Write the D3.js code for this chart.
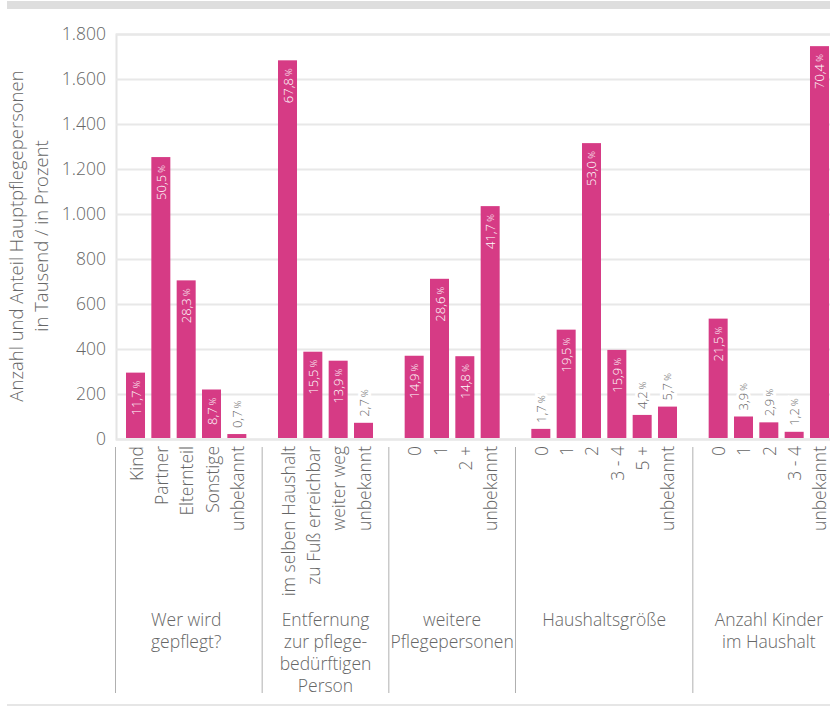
<!DOCTYPE html>
<html lang="de">
<head>
  <meta charset="UTF-8">
  <title>Hauptpflegepersonen</title>
  <style>
    body {
      margin: 0;
      background-color: white;
      font-family: "Open Sans", Lato, sans-serif;
      font-weight: 300;
    }
    svg text {
      fill: #666;
      font-family: "Open Sans", Lato, sans-serif;
      font-weight: 300;
    }
  </style>
</head>
<body>
  <div id="chart"></div>

  <script src="https://d3js.org/d3.v7.min.js"></script>
  <script>
    // Data (Anzahl in Tausend, Anteil in Prozent)
    const groupNames = [
      ['Wer wird', 'gepflegt?'],
      ['Entfernung', 'zur pflege-', 'bedürftigen', 'Person'],
      ['weitere', 'Pflegepersonen'],
      ['Haushaltsgröße'],
      ['Anzahl Kinder', 'im Haushalt']
    ];
    const categories = [
      ['Kind', 'Partner', 'Elternteil', 'Sonstige', 'unbekannt'],
      ['im selben Haushalt', 'zu Fuß erreichbar', 'weiter weg', 'unbekannt'],
      ['0', '1', '2 +', 'unbekannt'],
      ['0', '1', '2', '3 - 4', '5 +', 'unbekannt'],
      ['0', '1', '2', '3 - 4', 'unbekannt']
    ];
    const values = [
      [295, 1253, 705, 220, 22],
      [1683, 388, 348, 72],
      [370, 712, 368, 1035],
      [45, 486, 1315, 396, 107, 144],
      [535, 100, 74, 32, 1746]
    ];
    const shares = [
      [11.7, 50.5, 28.3, 8.7, 0.7],
      [67.8, 15.5, 13.9, 2.7],
      [14.9, 28.6, 14.8, 41.7],
      [1.7, 19.5, 53.0, 15.9, 4.2, 5.7],
      [21.5, 3.9, 2.9, 1.2, 70.4]
    ];
    const yTicks = [0, 200, 400, 600, 800, 1000, 1200, 1400, 1600, 1800];

    const width = 830, height = 707;
    const de = d3.formatLocale({ decimal: ',', thousands: '.', grouping: [3], currency: ['', ' €'] });
    const fmtTick = de.format(',');
    const fmtPct = de.format('.1f');

    // Build slots: one per bar plus one empty slot between groups
    const bars = [];
    const slots = [];
    const gapSlots = [];
    categories.forEach((cats, g) => {
      cats.forEach((c, i) => {
        const key = g + '-' + i;
        slots.push(key);
        bars.push({ key, group: g, label: c, value: values[g][i], share: shares[g][i] });
      });
      if (g < categories.length - 1) {
        slots.push('gap-' + g);
        gapSlots.push('gap-' + g);
      }
    });

    const svg = d3.select('#chart')
      .append('svg')
      .attr('width', width)
      .attr('height', height);

    const x = d3.scaleBand()
      .domain(slots)
      .range([116, 839])
      .paddingInner(0.25)
      .paddingOuter(0.395);

    const y = d3.scaleLinear()
      .domain([0, 1800])
      .range([439, 34]);

    // Frame lines top and bottom
    svg.append('rect')
      .attr('x', 7).attr('y', 1)
      .attr('width', width - 7).attr('height', 8)
      .attr('fill', '#dedede');
    svg.append('rect')
      .attr('x', 7).attr('y', 704)
      .attr('width', width - 7).attr('height', 2)
      .attr('fill', '#e6e6e6');

    // Grid
    const yAxis = d3.axisLeft(y)
      .tickValues(yTicks)
      .tickSize(-(width - 116))
      .tickPadding(10)
      .tickFormat(fmtTick);

    const gy = svg.append('g')
      .attr('transform', 'translate(116,0)')
      .call(yAxis);
    gy.select('.domain').attr('stroke', '#e4e4e4').attr('stroke-width', 2);
    gy.selectAll('.tick line').attr('stroke', '#e8e8e8').attr('stroke-width', 2);
    gy.selectAll('.tick text')
      .attr('font-size', 17.5)
      .attr('font-family', null);

    // Axis title
    const title = svg.append('text')
      .attr('transform', 'translate(0,236) rotate(-90)')
      .attr('text-anchor', 'middle')
      .attr('font-size', 18.5);
    title.append('tspan').attr('x', 0).attr('y', 23).text('Anzahl und Anteil Hauptpflegepersonen');
    title.append('tspan').attr('x', 0).attr('y', 48).text('in Tausend / in Prozent');

    // Bars
    svg.selectAll('.bar')
      .data(bars)
      .enter()
      .append('rect')
      .attr('class', 'bar')
      .attr('x', d => x(d.key))
      .attr('y', d => y(d.value))
      .attr('width', x.bandwidth())
      .attr('height', d => y(0) - y(d.value) - 1)
      .attr('fill', '#d63b85');

    // Percent labels
    const isInside = d => y(0) - y(d.value) > 48;
    const labels = svg.selectAll('.pct')
      .data(bars)
      .enter()
      .append('text')
      .attr('class', 'pct')
      .attr('font-size', 13)
      .attr('dominant-baseline', 'central')
      .attr('transform', d => {
        const cy = isInside(d) ? y(d.value) + 8 : y(d.value) - 6;
        return `translate(${x(d.key) + x.bandwidth() / 2},${cy}) rotate(-90)`;
      })
      .attr('text-anchor', d => (isInside(d) ? 'end' : 'start'))
      .style('fill', d => (isInside(d) ? '#fff' : '#666'))
      .style('stroke', d => (isInside(d) ? 'none' : '#fff'))
      .style('stroke-width', 6)
      .style('paint-order', 'stroke');
    labels.append('tspan').text(d => fmtPct(d.share) + '\u2009');
    labels.append('tspan').attr('font-size', 9.5).text('%');

    // Category labels
    svg.selectAll('.cat')
      .data(bars)
      .enter()
      .append('text')
      .attr('class', 'cat')
      .attr('font-size', 17.5)
      .attr('text-anchor', 'end')
      .attr('dominant-baseline', 'central')
      .attr('transform', d => `translate(${x(d.key) + x.bandwidth() / 2},446) rotate(-90)`)
      .text(d => d.label);

    // Group separators
    const sepX = [115.5].concat(gapSlots.map(s => x(s) + x.bandwidth() / 2));
    svg.selectAll('.sep')
      .data(sepX)
      .enter()
      .append('line')
      .attr('x1', d => d).attr('x2', d => d)
      .attr('y1', 447).attr('y2', 693)
      .attr('stroke', '#b0b0b0')
      .attr('stroke-width', 1);

    // Group labels
    groupNames.forEach((lines, g) => {
      const keys = bars.filter(b => b.group === g).map(b => b.key);
      const cx = (x(keys[0]) + x(keys[keys.length - 1]) + x.bandwidth()) / 2;
      const t = svg.append('text')
        .attr('text-anchor', 'middle')
        .attr('font-size', 17.5);
      lines.forEach((line, i) => {
        t.append('tspan').attr('x', cx).attr('y', 626 + i * 22).text(line);
      });
    });
  </script>
</body>
</html>
